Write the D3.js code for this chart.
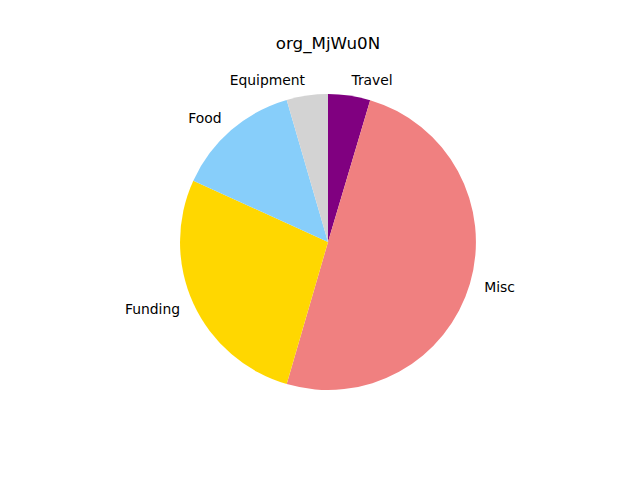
<!DOCTYPE html>
<html>
<head>
<meta charset="utf-8">
<script src="https://cdn.jsdelivr.net/npm/d3@7"></script>
<style>
  body { margin: 0; background: #fff; }
  text { font-family: "DejaVu Sans", sans-serif; }
</style>
</head>
<body>
<svg id="chart" width="640" height="480"></svg>
<script>
// slice data, clockwise from the top
const categories = ["Travel", "Misc", "Funding", "Food", "Equipment"];
const values = [4.6, 49.9, 27.3, 13.7, 4.5];
const colors = ["#800080", "#f08080", "#ffd700", "#87cefa", "#d3d3d3"];
const title = "org_MjWu0N";

const cx = 328, cy = 242, radius = 148;

const svg = d3.select("svg#chart");

svg.append("rect").attr("width", 640).attr("height", 480).attr("fill", "#fff");

svg.append("text")
    .attr("x", 328)
    .attr("y", 49)
    .attr("text-anchor", "middle")
    .attr("font-size", 16.7)
    .text(title);

const data = categories.map((c, i) => ({ name: c, value: values[i], color: colors[i] }));

const pie = d3.pie()
    .value(d => d.value)
    .sort(null);

const arc = d3.arc()
    .innerRadius(0)
    .outerRadius(radius);

const arcs = pie(data);

const g = svg.append("g")
    .attr("transform", "translate(" + cx + "," + cy + ")");

g.selectAll("path")
    .data(arcs)
    .join("path")
    .attr("d", arc)
    .attr("fill", d => d.data.color);

// labels at 1.1 * radius, anchored away from the centre like matplotlib
g.selectAll("text")
    .data(arcs)
    .join("text")
    .attr("x", d => 1.1 * radius * Math.sin((d.startAngle + d.endAngle) / 2))
    .attr("y", d => -1.1 * radius * Math.cos((d.startAngle + d.endAngle) / 2))
    .attr("dy", "0.28em")
    .attr("font-size", 13.9)
    .attr("text-anchor", d => Math.sin((d.startAngle + d.endAngle) / 2) >= 0 ? "start" : "end")
    .text(d => d.data.name);
</script>
</body>
</html>
